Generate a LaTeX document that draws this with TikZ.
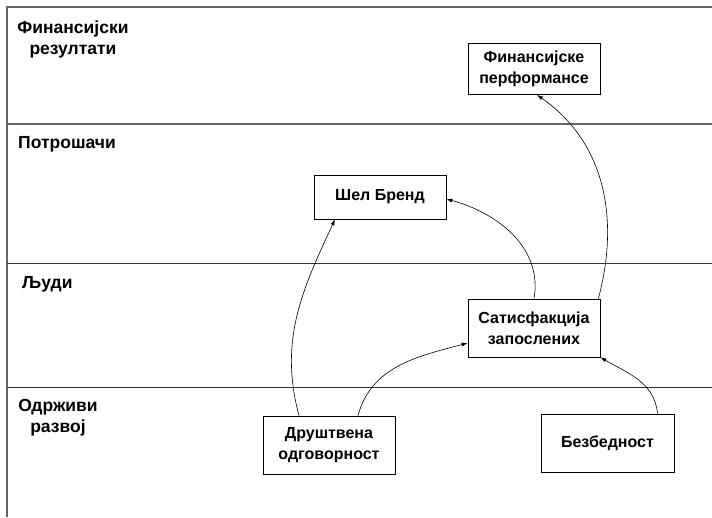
\documentclass[tikz,border=0pt]{standalone}
\usepackage{fontspec}
\setmainfont{Liberation Sans}
\usepackage{tikz}
\usetikzlibrary{arrows.meta, positioning}
\tikzset{
  box/.style={draw, line width=0.7pt, fill=white, align=center, minimum width=132pt, minimum height=58pt, font=\bfseries\fontsize{16}{21}\selectfont},
  lanetitle/.style={align=center, inner sep=0pt, font=\bfseries\fontsize{17.5}{21}\selectfont},
  frame/.style={draw=black!60, line width=1.3pt},
  lane/.style={draw=black!80, line width=0.7pt},
  arrow/.style={-{Latex[length=6pt,width=4pt]}, line width=0.6pt}
}

\begin{document}
\begin{tikzpicture}[x=1pt, y=-1pt]
  \useasboundingbox (0,0) rectangle (712,517);

  % Lanes
  \draw[frame] (712,7) -- (7,7) -- (7,517);
  \draw[frame] (7,124) -- (712,124);
  \draw[lane] (7,263) -- (712,263);
  \draw[lane] (7,387) -- (712,387);

  % Lane titles
  \node[lanetitle] (finres) at (73,39) {Финансијски\\резултати};
  \node[lanetitle, anchor=west] (potr) at (18,144) {Потрошачи};
  \node[lanetitle, anchor=west] (ljudi) at (22,284) {Људи};
  \node[lanetitle] (odrz) at (58,418) {Одрживи\\развој};

  % Nodes
  \node[box, minimum height=51pt] (fin) at (534,69) {Финансијске\\перформансе};
  \node[box, minimum height=44pt] (brend) at (380,197) {Шел Бренд};
  \node[box] (satisf) at (534,328) {Сатисфакција\\запослених};
  \node[box] (drustv) at (329,445) {Друштвена\\одговорност};
  \node[box, minimum width=133pt] (bezb) at (607.5,443) {Безбедност};

  % Arrows
  \draw[arrow] ([xshift=-30pt]drustv.north) to[out=105, in=-115] ([xshift=-45pt]brend.south);
  \draw[arrow] ([xshift=29pt]drustv.north) to[out=75, in=195] ([yshift=-15pt]satisf.west);
  \draw[arrow] ([xshift=50pt]bezb.north) to[out=95, in=-30] (satisf.south east);
  \draw[arrow] ([xshift=0pt]satisf.north) to[out=80, in=-15] ([yshift=-2pt]brend.east);
  \draw[arrow] ([xshift=-2pt]satisf.north east) to[out=75, in=-35] ([xshift=3pt]fin.south);
\end{tikzpicture}
\end{document}
